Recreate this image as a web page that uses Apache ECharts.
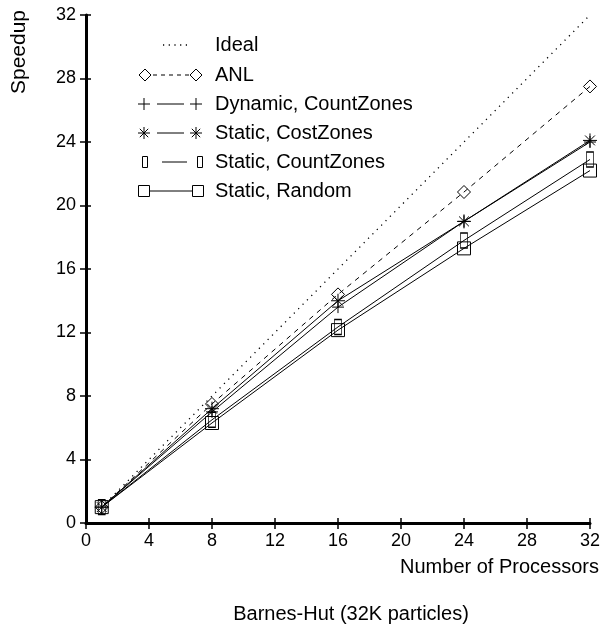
<!DOCTYPE html>
<html>
<head>
<meta charset="utf-8">
<script src="https://cdn.jsdelivr.net/npm/echarts@6/dist/echarts.min.js"></script>
<style>
  html, body { margin: 0; padding: 0; background: #fff; }
  #chart { width: 603px; height: 628px; }
</style>
</head>
<body>
<div id="chart"></div>
<script>
// Speedup of Barnes-Hut (32K particles) versus processor count
const processors = [1, 8, 16, 24, 32];
const ideal = [[1, 1], [32, 32]];
const anl = [1, 7.5, 14.4, 20.85, 27.5];
const dynamicCountZones = [1, 7.0, 13.6, 19.0, 24.0];
const staticCostZones = [1, 7.2, 14.0, 19.0, 24.1];
const staticCountZones = [1, 6.5, 12.35, 17.8, 22.9];
const staticRandom = [1, 6.3, 12.15, 17.3, 22.2];
const axisTicks = [0, 4, 8, 12, 16, 20, 24, 28, 32];

const legendNames = ['Ideal', 'ANL', 'Dynamic, CountZones', 'Static, CostZones', 'Static, CountZones', 'Static, Random'];

const FONT = 'Liberation Sans, Arial, sans-serif';
const PLUS = 'path://M5,0L5,10M0,5L10,5';
const STAR = 'path://M5,0L5,10M0,5L10,5M1.5,1.5L8.5,8.5M8.5,1.5L1.5,8.5';

function pairs(ys) { return processors.map((x, i) => [x, ys[i]]); }

function lineSeries(name, ys, symbol, size, lineType) {
  return {
    name: name,
    type: 'line',
    data: pairs(ys),
    symbol: symbol,
    symbolSize: size,
    symbolKeepAspect: false,
    showAllSymbol: true,
    lineStyle: { color: '#000', width: 1, type: lineType || 'solid' },
    itemStyle: { color: 'rgba(0,0,0,0)', borderColor: '#000', borderWidth: 1 },
    emphasis: { disabled: true },
    animation: false,
    z: 3
  };
}

const chart = echarts.init(document.getElementById('chart'), null, { renderer: 'canvas' });

// Legend: symbol, connecting stroke, symbol, label
const legendGraphics = [];
const rowY = [45, 75, 104, 133, 162, 191];
const textX = 215;
function strokeLine(x1, y1, x2, y2, dash, width) {
  return { type: 'line', shape: { x1, y1, x2, y2 }, style: { stroke: '#000', lineWidth: width || 1, lineDash: dash || null } };
}
function diamondAt(cx, cy, r) {
  return { type: 'polygon', shape: { points: [[cx, cy - r], [cx + r, cy], [cx, cy + r], [cx - r, cy]] }, style: { fill: 'none', stroke: '#000', lineWidth: 1 } };
}
function plusAt(cx, cy, r) {
  return [strokeLine(cx - r, cy, cx + r, cy), strokeLine(cx, cy - r, cx, cy + r)];
}
function starAt(cx, cy, r) {
  const d = r * 0.7;
  return plusAt(cx, cy, r).concat([strokeLine(cx - d, cy - d, cx + d, cy + d), strokeLine(cx - d, cy + d, cx + d, cy - d)]);
}
function rectAt(cx, cy, w, h) {
  return { type: 'rect', shape: { x: cx - w / 2, y: cy - h / 2, width: w, height: h }, style: { fill: 'none', stroke: '#000', lineWidth: 1 } };
}

// Ideal
legendGraphics.push(strokeLine(163, rowY[0], 191, rowY[0], [1.2, 4.5], 1.3));
// ANL
legendGraphics.push(diamondAt(145, rowY[1], 6), diamondAt(196, rowY[1], 6), strokeLine(153, rowY[1], 189, rowY[1], [4, 4]));
// Dynamic, CountZones
legendGraphics.push(...plusAt(144, rowY[2], 6), ...plusAt(196, rowY[2], 6), strokeLine(157, rowY[2], 184, rowY[2]));
// Static, CostZones
legendGraphics.push(...starAt(144, rowY[3], 6), ...starAt(196, rowY[3], 6), strokeLine(157, rowY[3], 184, rowY[3]));
// Static, CountZones
legendGraphics.push(rectAt(145, rowY[4], 5, 11), rectAt(200, rowY[4], 5, 11), strokeLine(162, rowY[4], 187, rowY[4]));
// Static, Random
legendGraphics.push(rectAt(144, rowY[5], 11, 11), rectAt(198, rowY[5], 11, 11), strokeLine(150, rowY[5], 192, rowY[5]));

legendNames.forEach((name, i) => {
  legendGraphics.push({
    type: 'text', x: textX, y: rowY[i],
    style: { text: name, font: '20px ' + FONT, fill: '#000', textVerticalAlign: 'middle', textAlign: 'left' }
  });
});

// Axis titles and caption
legendGraphics.push(
  { type: 'text', x: 599, y: 567, style: { text: 'Number of Processors', font: '20px ' + FONT, fill: '#000', textAlign: 'right', textVerticalAlign: 'middle' } },
  { type: 'text', x: 351, y: 614, style: { text: 'Barnes-Hut (32K particles)', font: '20px ' + FONT, fill: '#000', textAlign: 'center', textVerticalAlign: 'middle' } },
  { type: 'text', x: 19, y: 52, rotation: Math.PI / 2, style: { text: 'Speedup', font: '21px ' + FONT, fill: '#000', textAlign: 'center', textVerticalAlign: 'middle' } }
);

const axisCommon = {
  type: 'value', min: 0, max: 32, interval: 4,
  splitLine: { show: false }
};

chart.setOption({
  backgroundColor: '#fff',
  animation: false,
  grid: { left: 86, right: 11, top: 15, bottom: 105, containLabel: false },
  xAxis: [
    Object.assign({}, axisCommon, {
      axisLine: { show: true, onZero: false, lineStyle: { color: '#000', width: 3 } },
      axisTick: { show: true, inside: false, length: 6, lineStyle: { color: '#000', width: 1.5 } },
      axisLabel: { color: '#000', fontSize: 18, fontFamily: FONT, margin: 9,
        formatter: v => axisTicks.includes(v) ? String(v) : '' }
    }),
    Object.assign({}, axisCommon, {
      position: 'bottom',
      axisLine: { show: false, onZero: false },
      axisTick: { show: true, inside: true, length: 5, lineStyle: { color: '#000', width: 1.5 } },
      axisLabel: { show: false }
    })
  ],
  yAxis: [
    Object.assign({}, axisCommon, {
      axisLine: { show: true, onZero: false, lineStyle: { color: '#000', width: 3 } },
      axisTick: { show: true, inside: false, length: 6, lineStyle: { color: '#000', width: 1.5 } },
      axisLabel: { color: '#000', fontSize: 18, fontFamily: FONT, margin: 10,
        formatter: v => axisTicks.includes(v) ? String(v) : '' }
    }),
    Object.assign({}, axisCommon, {
      position: 'left',
      axisLine: { show: false, onZero: false },
      axisTick: { show: true, inside: true, length: 5, lineStyle: { color: '#000', width: 1.5 } },
      axisLabel: { show: false }
    })
  ],
  series: [
    {
      name: 'Ideal', type: 'line', data: ideal, symbol: 'none',
      lineStyle: { color: '#000', width: 1.3, type: [1.2, 5] },
      emphasis: { disabled: true }, z: 2
    },
    lineSeries('ANL', anl, 'diamond', [13, 13], [5, 5]),
    lineSeries('Dynamic, CountZones', dynamicCountZones, PLUS, [12, 12]),
    lineSeries('Static, CostZones', staticCostZones, STAR, [14, 14]),
    lineSeries('Static, CountZones', staticCountZones, 'rect', [7, 15]),
    lineSeries('Static, Random', staticRandom, 'rect', [13, 13])
  ],
  graphic: legendGraphics
});
</script>
</body>
</html>
